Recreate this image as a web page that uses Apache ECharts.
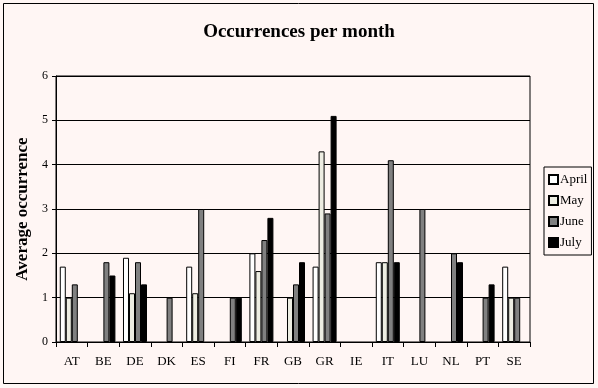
<!DOCTYPE html>
<html><head><meta charset="utf-8">
<script src="https://cdn.jsdelivr.net/npm/echarts@6/dist/echarts.min.js"></script>
<style>html,body{margin:0;padding:0;background:#FFF6F4}#c{width:598px;height:388px}</style>
</head><body><div id="c"></div>
<script>
const categories = ['AT','BE','DE','DK','ES','FI','FR','GB','GR','IE','IT','LU','NL','PT','SE'];
const april = [1.7, 0, 1.9, 0, 1.7, 0, 2.0, 0, 1.7, 0, 1.8, 0, 0, 0, 1.7];
const may   = [1.0, 0, 1.1, 0, 1.1, 0, 1.6, 1.0, 4.3, 0, 1.8, 0, 0, 0, 1.0];
const june  = [1.3, 1.8, 1.8, 1.0, 3.0, 1.0, 2.3, 1.3, 2.9, 0, 4.1, 3.0, 2.0, 1.0, 1.0];
const july  = [0, 1.5, 1.3, 0, 0, 1.0, 2.8, 1.8, 5.1, 0, 1.8, 0, 1.8, 1.3, 0];
const yTicks = [0,1,2,3,4,5,6];

const font = '"Liberation Serif","Times New Roman",serif';
const chart = echarts.init(document.getElementById('c'), null, {renderer:'canvas'});
function ser(name, data, color){
  return {name, type:'bar', data: data.map(v => v === 0 ? null : v), barGap:'0%', barCategoryGap:'24%',
    itemStyle:{color, borderColor:'#000', borderWidth:1}, animation:false};
}
chart.setOption({
  backgroundColor:'#FFF6F4',
  animation:false,
  title:{text:'Occurrences per month', left:'center', top:18,
    textStyle:{fontFamily:font, fontWeight:'bold', fontSize:19, color:'#000'}},
  graphic:[{type:'rect', shape:{x:3.5,y:3.5,width:590,height:380}, style:{fill:null, stroke:'#000', lineWidth:1}, silent:true}],
  grid:{left:56, right:68, top:76, bottom:46, show:true, borderColor:'#000', borderWidth:1, backgroundColor:'transparent'},
  legend:{orient:'vertical', left:544, top:167, itemWidth:9, itemHeight:9, itemGap:8,
    padding:[6,4,6,4], borderColor:'#000', borderWidth:1, icon:'rect',
    textStyle:{fontFamily:font, fontSize:13, color:'#000', padding:[0,0,0,-3]},
    data:['April','May','June','July']},
  xAxis:{type:'category', data:categories,
    axisLine:{lineStyle:{color:'#000', width:1}},
    axisTick:{show:true, length:5, lineStyle:{color:'#000'}},
    axisLabel:{fontFamily:font, fontSize:13, color:'#000', margin:13}},
  yAxis:{type:'value', min:0, max:6, interval:1,
    name:'Average occurrence', nameLocation:'middle', nameGap:25, nameRotate:90,
    nameTextStyle:{fontFamily:font, fontWeight:'bold', fontSize:17, color:'#000'},
    axisLine:{show:true, lineStyle:{color:'#000'}},
    axisTick:{show:true, length:4, lineStyle:{color:'#000'}},
    axisLabel:{fontFamily:font, fontSize:12, color:'#000', margin:8, formatter: v => yTicks.includes(v) ? String(v) : ''},
    splitLine:{show:true, lineStyle:{color:'#000', width:1}}},
  series:[ser('April', april, '#FFFFFF'), ser('May', may, '#EDEDE2'), ser('June', june, '#808080'), ser('July', july, '#000000')]
});
</script></body></html>
